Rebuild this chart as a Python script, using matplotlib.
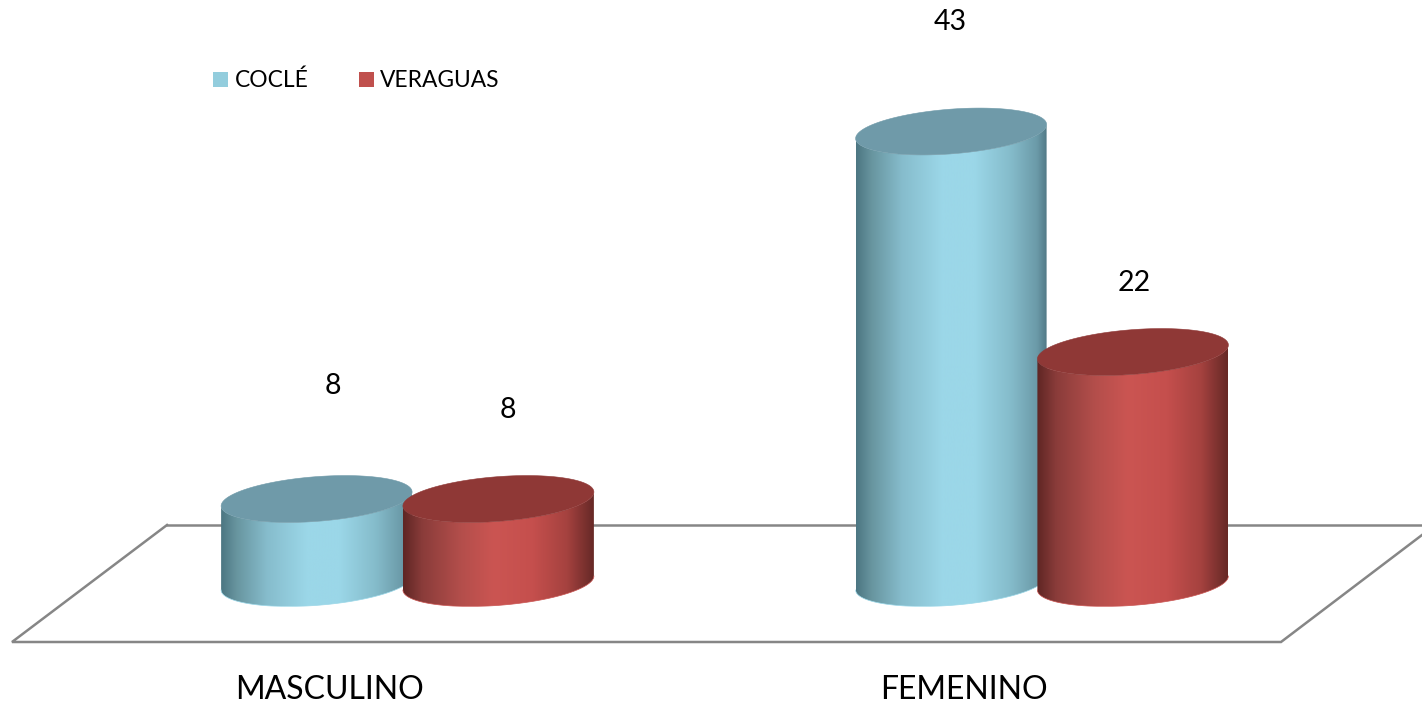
import numpy as np
import matplotlib
matplotlib.use('Agg')
import matplotlib.pyplot as plt
import matplotlib.colors as colors
from matplotlib.lines import Line2D
from matplotlib.patches import Polygon

categories = ['MASCULINO', 'FEMENINO']
series_names = ['COCLÉ', 'VERAGUAS']
cocle = [8, 43]
veraguas = [8, 22]

plt.rcParams['font.family'] = ['Lato', 'DejaVu Sans']

W, H = 1422, 707

# horizontal shading of the cylinders, edge - centre - edge
cm_cocle = colors.LinearSegmentedColormap.from_list('cocle', [
    (0.0, '#4c7682'), (0.08, '#68959f'), (0.24, '#86bccc'), (0.45, '#9bd7e8'),
    (0.62, '#9bd7e8'), (0.81, '#85bccb'), (0.95, '#6b9aa8'), (1.0, '#527a87')])
cm_veraguas = colors.LinearSegmentedColormap.from_list('veraguas', [
    (0.0, '#5f2624'), (0.1, '#8a3c3a'), (0.3, '#b34e4b'), (0.476, '#cb5552'),
    (0.68, '#c54f4d'), (0.86, '#a5423f'), (0.98, '#6f2c2a'), (1.0, '#672825')])
top_colors = ['#6f9aa9', '#8f3836']
legend_colors = ['#93cddd', '#c0504d']

bar_half = 0.1505
bar_step = 0.2865
cap_slope = 0.665
cap_h = 2.13


def cap_curve(cx, y, t):
    x = np.cos(t)
    return cx + bar_half * x, y + cap_slope * x + cap_h * np.sin(t)


def draw_bar(ax, cx, value, cmap, top_color, z):
    t_low = np.linspace(np.pi, 2 * np.pi, 80)
    xb, yb = cap_curve(cx, 0, t_low)
    xt, yt = cap_curve(cx, value, t_low)
    body = np.column_stack([np.r_[xb, xt[::-1]], np.r_[yb, yt[::-1]]])
    clip = Polygon(body, closed=True, transform=ax.transData, fc='none', ec='none')
    ax.add_patch(clip)
    im = ax.imshow(np.linspace(0, 1, 256)[None, :], cmap=cmap, aspect='auto',
                   interpolation='bilinear', zorder=z,
                   extent=[cx - bar_half, cx + bar_half, yb.min(), yt.max()])
    im.set_clip_path(clip)
    # soft edge so the clipped image does not look jagged
    ax.plot(xb, yb, color=cmap(0.5), lw=0.5, zorder=z)
    xc, yc = cap_curve(cx, value, np.linspace(0, 2 * np.pi, 160))
    ax.add_patch(Polygon(np.column_stack([xc, yc]), closed=True, fc=top_color,
                         ec=top_color, lw=0.4, zorder=z + 0.5))


fig = plt.figure(figsize=(W / 100, H / 100), dpi=100)
ax = fig.add_axes([0, 0, 1, 1])
ax.axis('off')


def px(x, y):
    return x / W, 1 - y / H


# floor of the 3D chart
floor_back = [px(167, 525), px(W, 525)]
floor_front = [px(167, 525), px(12, 642), px(1281, 642), px(W, 535)]
for pts in (floor_back, floor_front):
    xs, ys = zip(*pts)
    ax.plot(xs, ys, color='#868686', lw=1.8, transform=ax.transAxes, zorder=1,
            solid_joinstyle='miter')

pos = np.arange(len(categories))
for i, p in enumerate(pos):
    draw_bar(ax, p - bar_step / 2, cocle[i], cm_cocle, top_colors[0], 2 + i * 2)
    draw_bar(ax, p + bar_step / 2, veraguas[i], cm_veraguas, top_colors[1], 3 + i * 2)

ax.set_xlim(-407.5 / 634.5, (W - 407.5) / 634.5)
ax.set_ylim(-124 / 10.5, 583 / 10.5)

# value labels, offsets in pixels from the bar top
label_off = [[(16, 113), (9, 89)], [(-1, 110), (1, 69)]]
for i, p in enumerate(pos):
    ax.annotate(str(cocle[i]), (p - bar_step / 2, cocle[i]), xytext=label_off[i][0],
                textcoords='offset pixels', ha='center', va='center', fontsize=20.5, color='black')
    ax.annotate(str(veraguas[i]), (p + bar_step / 2, veraguas[i]), xytext=label_off[i][1],
                textcoords='offset pixels', ha='center', va='center', fontsize=20.5, color='black')

for i, p in enumerate(pos):
    ax.annotate(categories[i], (p, 0), xytext=(-78, -107), textcoords='offset pixels',
                ha='center', va='center', fontsize=23, color='black')

handles = [Line2D([], [], ls='none', marker='s', ms=10.8, mfc=c, mec=c, mew=0) for c in legend_colors]
fig.legend(handles, series_names, loc='center left', bbox_to_anchor=(208.5 / W, 1 - 80.5 / H),
           ncol=2, frameon=False, fontsize=16.4, handlelength=1.0, handletextpad=0.14,
           columnspacing=2.02, borderpad=0, borderaxespad=0)

fig.savefig('out.png', dpi=100, facecolor='white')
